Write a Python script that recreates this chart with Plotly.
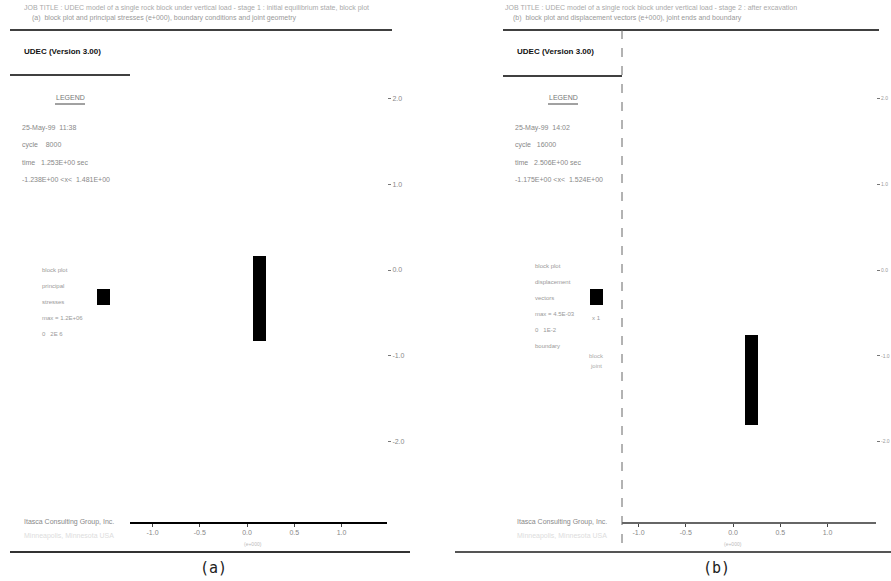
import plotly.graph_objects as go

# ---------------- data ----------------
x_tick_vals = [-1.0, -0.5, 0.0, 0.5, 1.0]
x_tick_text = ["-1.0", "-0.5", "0.0", "0.5", "1.0"]
y_tick_vals = [-2.0, -1.0, 0.0, 1.0, 2.0]
y_tick_text = ["-2.0", "-1.0", "0.0", "1.0", "2.0"]

# deformed block (x from/to, y from/to) in model units
block_a_x = [0.064, 0.201]
block_a_y = [-0.828, 0.163]
block_b_x = [0.127, 0.265]
block_b_y = [-1.808, -0.758]

header_a = ["JOB TITLE : UDEC model of a single rock block under vertical load - stage 1 : initial equilibrium state, block plot",
            "(a)  block plot and principal stresses (e+000), boundary conditions and joint geometry"]
header_b = ["JOB TITLE : UDEC model of a single rock block under vertical load - stage 2 : after excavation",
            "(b)  block plot and displacement vectors (e+000), joint ends and boundary"]
legend_info_a = ["25-May-99  11:38", "cycle    8000", "time   1.253E+00 sec", "-1.238E+00 <x<  1.481E+00"]
legend_info_b = ["25-May-99  14:02", "cycle   16000", "time   2.506E+00 sec", "-1.175E+00 <x<  1.524E+00"]
legend_items_a = ["block plot", "principal", "stresses", "max = 1.2E+06", "0   2E 6"]
legend_items_b = ["block plot", "displacement", "vectors", "max = 4.5E-03", "0   1E-2", "boundary"]
footer = ["Itasca Consulting Group, Inc.", "Minneapolis, Minnesota USA"]
panel_labels = ["(a)", "(b)"]

W, H = 891, 581


def px(x):
    return x / W


def py(y):
    return 1 - y / H


fig = go.Figure()

fig.add_trace(go.Bar(x=[(block_a_x[0] + block_a_x[1]) / 2], y=[block_a_y[1] - block_a_y[0]],
                     base=[block_a_y[0]], width=[block_a_x[1] - block_a_x[0]],
                     marker=dict(color="black", line=dict(width=0)),
                     xaxis="x", yaxis="y", showlegend=False, hoverinfo="skip"))
fig.add_trace(go.Bar(x=[(block_b_x[0] + block_b_x[1]) / 2], y=[block_b_y[1] - block_b_y[0]],
                     base=[block_b_y[0]], width=[block_b_x[1] - block_b_x[0]],
                     marker=dict(color="black", line=dict(width=0)),
                     xaxis="x2", yaxis="y2", showlegend=False, hoverinfo="skip"))

tickfont = dict(family="Liberation Sans", size=7, color="#888")
common_x = dict(tickvals=x_tick_vals, ticktext=x_tick_text, showgrid=False, zeroline=False,
                ticks="outside", ticklen=3, tickcolor="#444", tickfont=tickfont, fixedrange=True)
common_y = dict(tickvals=y_tick_vals, ticktext=y_tick_text, showgrid=False, zeroline=False,
                ticks="outside", ticklen=3, tickcolor="#777", side="right",
                showline=False, fixedrange=True, range=[(270 - 522) / 85.75, (270 - 30) / 85.75])

fig.update_layout(
    width=W, height=H, margin=dict(l=0, r=0, t=0, b=0),
    paper_bgcolor="white", plot_bgcolor="white", bargap=0,
    xaxis=dict(domain=[px(130), px(387)], range=[(130 - 247) / 94.5, (387 - 247) / 94.5],
               anchor="y", showline=True, linecolor="black", linewidth=1.5, **common_x),
    yaxis=dict(domain=[py(522), py(30)], anchor="x", tickfont=tickfont, **common_y),
    xaxis2=dict(domain=[px(622), px(876)], range=[(622 - 733) / 94.5, (876 - 733) / 94.5],
                anchor="y2", showline=True, linecolor="#666", linewidth=1.5, **common_x),
    yaxis2=dict(domain=[py(522), py(30)], anchor="x2",
                tickfont=dict(family="Liberation Sans", size=5, color="#999"), **common_y),
)

shapes = []


def hline(x0, x1, y, w=1.5, color="black", dash="solid"):
    shapes.append(dict(type="line", xref="paper", yref="paper", x0=px(x0), x1=px(x1),
                       y0=py(y), y1=py(y), line=dict(color=color, width=w, dash=dash)))


def vline(x, y0, y1, w=1, color="black", dash="solid"):
    shapes.append(dict(type="line", xref="paper", yref="paper", x0=px(x), x1=px(x),
                       y0=py(y0), y1=py(y1), line=dict(color=color, width=w, dash=dash)))


def rect(x0, y0, x1, y1):
    shapes.append(dict(type="rect", xref="paper", yref="paper", x0=px(x0), x1=px(x1),
                       y0=py(y1), y1=py(y0), fillcolor="black", line=dict(width=0)))


# panel (a)
hline(10, 392, 30, 1.5)
hline(10, 130, 75, 1.5)
hline(55, 85, 104, 1, "#444")
hline(10, 410, 552, 2, "#333")
rect(97, 289, 110, 305)
# panel (b)
hline(503, 879, 30, 1.5)
hline(503, 622, 76, 1.5)
hline(548, 578, 104, 1, "#444")
hline(455, 891, 552, 2, "#555")
vline(622, 30, 552, 1, "#666", "dash")
rect(590, 289, 603, 305)
fig.update_layout(shapes=shapes)

ann = []


def text(x, y, s, size=7, color="#888", anchor="left", bold=False, family="Liberation Sans"):
    if bold:
        s = "<b>" + s + "</b>"
    ann.append(dict(xref="paper", yref="paper", x=px(x), y=py(y), text=s, showarrow=False,
                    xanchor=anchor, yanchor="middle", font=dict(family=family, size=size, color=color)))


for hx, hdr in [(22, header_a), (503, header_b)]:
    text(hx, 8, hdr[0], 7, "#aaa")
    text(hx + 8, 18, hdr[1], 7, "#999")

for ox, info, items in [(0, legend_info_a, legend_items_a), (493, legend_info_b, legend_items_b)]:
    text(ox + 22, 52, "UDEC (Version 3.00)", 8, "#111", bold=True)
    text(ox + 70, 97, "LEGEND", 7, "#777", anchor="center")
    for k, s in enumerate(info):
        text(ox + 20, 128 + 17 * k, s, 7, "#888")
    for k, s in enumerate(items):
        text(ox + 40, 270 + 16 * k - (4 if len(items) > 5 else 0), s, 6, "#999")
    text(ox + 22, 522, footer[0], 7, "#888")
    text(ox + 22, 536, footer[1], 7, "#ddd")

text(596, 318, "x 1", 6, "#999", anchor="center")
text(596, 356, "block", 6, "#aaa", anchor="center")
text(596, 366, "joint", 6, "#aaa", anchor="center")
text(253, 544, "(e+000)", 5, "#bbb", anchor="center")
text(733, 544, "(e+000)", 5, "#bbb", anchor="center")

text(213, 568, panel_labels[0], 15, "#222", anchor="center", family="DejaVu Sans Mono")
text(716, 568, panel_labels[1], 15, "#222", anchor="center", family="DejaVu Sans Mono")

fig.update_layout(annotations=ann)
fig.write_html("out.html", config={"displayModeBar": False},
               post_script="document.body.style.margin='0';document.body.style.overflow='hidden';")
